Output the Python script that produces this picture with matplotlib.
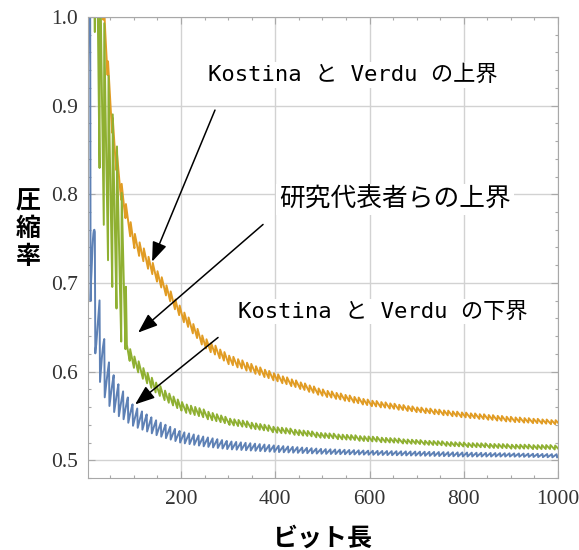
import numpy as np
import matplotlib
matplotlib.use('Agg')
import matplotlib.pyplot as plt

plt.rcParams['font.family'] = ['Liberation Serif']

# envelope (upper / lower edge of the zigzag)
env_n = [5, 10, 20, 30, 40, 50, 60, 70, 80, 85, 90, 100, 150, 200, 250, 300, 400, 500, 600, 700, 800, 900, 1000]

lower_kv_hi = [1.20, 0.90, 0.707, 0.676, 0.625, 0.608, 0.594, 0.585, 0.577, 0.574, 0.570, 0.562, 0.545, 0.533, 0.527,
               0.522, 0.517, 0.513, 0.511, 0.510, 0.509, 0.508, 0.507]
lower_kv_lo = [0.68, 0.65, 0.605, 0.578, 0.565, 0.557, 0.551, 0.547, 0.544, 0.542, 0.540, 0.537, 0.527, 0.519, 0.515,
               0.512, 0.509, 0.507, 0.506, 0.505, 0.504, 0.504, 0.503]

upper_kv_hi = [1.40, 1.30, 1.20, 1.08, 0.985, 0.915, 0.86, 0.825, 0.795, 0.785, 0.775, 0.757, 0.714, 0.672, 0.638,
               0.619, 0.598, 0.580, 0.568, 0.560, 0.554, 0.549, 0.545]
upper_kv_lo = [1.30, 1.20, 1.10, 1.03, 0.96, 0.89, 0.835, 0.80, 0.775, 0.765, 0.755, 0.738, 0.700, 0.659, 0.626,
               0.608, 0.589, 0.572, 0.561, 0.554, 0.548, 0.543, 0.540]

ours_hi = [1.50, 1.40, 1.25, 1.08, 0.98, 0.92, 0.87, 0.83, 0.80, 0.635, 0.628, 0.618, 0.586, 0.566, 0.557, 0.548,
           0.538, 0.531, 0.527, 0.523, 0.520, 0.518, 0.517]
ours_lo = [1.10, 1.05, 0.90, 0.79, 0.73, 0.69, 0.655, 0.633, 0.622, 0.618, 0.612, 0.603, 0.573, 0.555, 0.547, 0.540,
           0.531, 0.525, 0.521, 0.518, 0.515, 0.513, 0.512]

# tooth period / position of first tooth (in bits)
period = {'lower': 10.0, 'upper': 9.5, 'ours': 9.2}
start = {'lower': 7.5, 'upper': 45.0, 'ours': 18.0}

labels = ['Kostina と Verdu の上界', '研究代表者らの上界', 'Kostina と Verdu の下界']

blue, orange, green = '#5E81B5', '#E19C24', '#8FB032'

n = np.arange(1, 1001)


def zigzag(hi, lo, p, s, rising):
    h = np.interp(n, env_n, hi)
    l = np.interp(n, env_n, lo)
    f = np.mod((n - s) / p, 1.0)
    if rising:
        return l + (h - l) * f
    return h - (h - l) * f


y_low = zigzag(lower_kv_hi, lower_kv_lo, period['lower'], start['lower'], True)
y_up = zigzag(upper_kv_hi, upper_kv_lo, period['upper'], start['upper'], False)
y_ours = zigzag(ours_hi, ours_lo, period['ours'], start['ours'], False)

fig = plt.figure(figsize=(5.79, 5.50), dpi=100)
ax = fig.add_axes([88/579, 72/550, 470/579, 461/550])

ax.plot(n, y_low, color=blue, lw=1.4)
ax.plot(n, y_up, color=orange, lw=1.4)
ax.plot(n, y_ours, color=green, lw=1.4)

ax.set_xlim(2.5, 1000)
ax.set_ylim(0.481, 1.0)
ax.set_xticks([200, 400, 600, 800, 1000])
ax.set_xticks(np.arange(50, 1000, 50), minor=True)
ax.set_yticks([0.5, 0.6, 0.7, 0.8, 0.9, 1.0])
ax.set_yticks(np.arange(0.48, 1.0, 0.02), minor=True)
ax.set_yticklabels(['0.5', '0.6', '0.7', '0.8', '0.9', '1.0'])
ax.grid(which='major', color='#d2d2d2', lw=1.0)
ax.set_axisbelow(True)
for sp in ax.spines.values():
    sp.set_color('#a8a8a8')
ax.tick_params(which='both', direction='in', top=True, right=True, color='#a8a8a8', width=0.8)
ax.tick_params(which='major', length=5)
ax.tick_params(which='minor', length=2.5)
ax.tick_params(labelsize=15.5, labelcolor='#333333')
ax.tick_params(axis='y', pad=7)
ax.tick_params(axis='x', pad=9)

lab_font = ['DejaVu Sans Mono', 'Noto Sans CJK JP']
box = dict(facecolor='white', edgecolor='none', pad=2)
ax.text(565, 0.935, labels[0], family=lab_font, fontsize=16, ha='center', va='center', bbox=box)
ax.text(654, 0.794, labels[1], family=lab_font, fontsize=18.5, ha='center', va='center', bbox=box)
ax.text(628, 0.668, labels[2], family=lab_font, fontsize=16, ha='center', va='center', bbox=box)

arr = dict(arrowstyle='-|>,head_length=0.8,head_width=0.3', mutation_scale=15, color='black', lw=1.1,
           shrinkA=0, shrinkB=0)
ax.annotate('', xy=(138.5, 0.724), xytext=(272, 0.895), arrowprops=arr)
ax.annotate('', xy=(108.8, 0.644), xytext=(374, 0.766), arrowprops=arr)
ax.annotate('', xy=(102.4, 0.563), xytext=(278.5, 0.6385), arrowprops=arr)

fig.text(322/579, 1 - 539/550, 'ビット長', family='Noto Sans CJK JP', fontsize=18, weight='bold',
         ha='center', va='center')
fig.text(28/579, 1 - 229/550, '圧\n縮\n率', family='Noto Sans CJK JP', fontsize=18, weight='bold',
         ha='center', va='center', linespacing=1.2)

fig.savefig('out.png', dpi=100, facecolor='white')
